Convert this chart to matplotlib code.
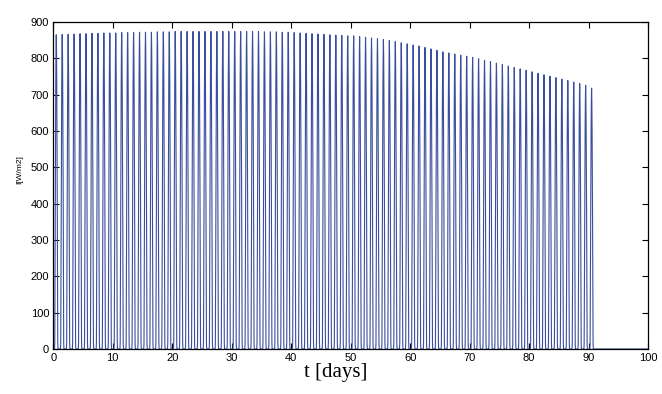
import matplotlib
matplotlib.use("Agg")
import matplotlib.pyplot as plt
import numpy as np

# Daily peak irradiance [W/m2], days 0..90
daily_peaks = [
    865, 866, 866, 867, 868, 868, 869, 869, 870, 870,
    870, 871, 871, 871, 872, 872, 872, 873, 873, 873,
    874, 874, 874, 874, 874, 874, 874, 874, 874, 874,
    874, 874, 874, 874, 874, 873, 873, 873, 872, 872,
    871, 870, 869, 868, 867, 866, 865, 864, 863, 862,
    862, 860, 858, 856, 854, 852, 849, 846, 843, 840,
    837, 834, 830, 826, 822, 818, 815, 812, 809, 806,
    803, 799, 795, 791, 787, 783, 779, 775, 771, 767,
    763, 759, 755, 751, 747, 743, 739, 735, 731, 726,
    718,
]
# Normalised hourly profile over one day (hours 0..23)
hourly_profile = [0, 0, 0, 0, 0, 0, 0.02, 0.25, 0.48, 0.68, 0.84, 0.95,
                  1.0, 0.95, 0.84, 0.68, 0.48, 0.25, 0.02, 0, 0, 0, 0, 0]
x_end = 100
xticks = list(range(0, 101, 10))
yticks = list(range(0, 901, 100))

t = []
v = []
for d, pk in enumerate(daily_peaks):
    for h, p in enumerate(hourly_profile):
        t.append(d + h / 24.0)
        v.append(pk * p)
t.append(len(daily_peaks))
v.append(0)
t.append(x_end)
v.append(0)

fig = plt.figure(figsize=(6.62, 3.94), dpi=100)
ax = fig.add_axes([0.0805, 0.1142, 0.8985, 0.8298])
ax.plot(t, v, color="#3a4e9e", lw=0.8)
ax.set_xlim(0, 100)
ax.set_ylim(0, 900)
ax.set_xticks(xticks)
ax.set_yticks(yticks)
ax.tick_params(direction="in", top=True, right=True, length=4, width=0.8,
               labelsize=8, pad=3)
for lab in ax.get_xticklabels() + ax.get_yticklabels():
    lab.set_family("Liberation Sans")
for s in ax.spines.values():
    s.set_linewidth(0.9)
fig.text(0.507, 1 - 377 / 394, "t [days]", family="Liberation Serif",
         fontsize=15, ha="center", va="baseline")
fig.text(20 / 662, 1 - 170 / 394, "I[W/m2]", family="Liberation Sans",
         fontsize=6, rotation=90, ha="center", va="center")
fig.savefig("out.png", dpi=100)
